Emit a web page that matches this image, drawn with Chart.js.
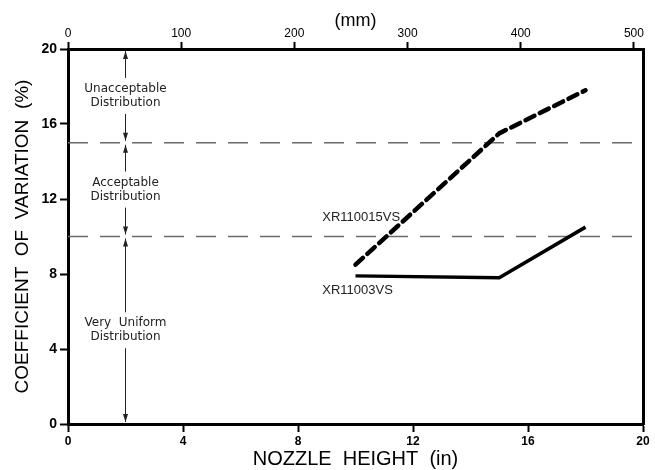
<!DOCTYPE html>
<html>
<head>
<meta charset="utf-8">
<script src="https://cdn.jsdelivr.net/npm/chart.js@4.4.1/dist/chart.umd.min.js"></script>
<style>
  html, body { margin: 0; padding: 0; background: #fff; }
  canvas { display: block; }
</style>
</head>
<body>
<canvas id="c" width="655" height="470"></canvas>
<script>
// ---- data ----
const nozzleHeightIn = [10, 15, 18];
const cvXR110015VS = [8.5, 15.5, 17.8];
const cvXR11003VS = [7.9, 7.8, 10.5];
const seriesNames = ['XR110015VS', 'XR11003VS'];
const xTicksIn = [0, 4, 8, 12, 16, 20];
const yTicks = [0, 4, 8, 12, 16, 20];
const mmTicks = [0, 100, 200, 300, 400, 500];
const zoneBounds = [0, 10, 15, 20];
const zoneLabels = [
  ['Very  Uniform', 'Distribution'],
  ['Acceptable', 'Distribution'],
  ['Unacceptable', 'Distribution']
];
const zoneArrowIn = 2;
const MM_PER_IN = 25.4;

const toXY = (xs, ys) => xs.map((x, i) => ({ x: x, y: ys[i] }));

const zonePlugin = {
  id: 'zones',
  beforeDatasetsDraw(chart) {
    const { ctx, chartArea: a, scales: { x, y } } = chart;
    ctx.save();
    // boundary dashed lines
    ctx.strokeStyle = '#6a6a6a';
    ctx.lineWidth = 1.5;
    ctx.setLineDash([20, 12]);
    zoneBounds.slice(1, -1).forEach(v => {
      const py = y.getPixelForValue(v);
      ctx.beginPath();
      ctx.moveTo(a.left, py);
      ctx.lineTo(a.right, py);
      ctx.stroke();
    });
    ctx.setLineDash([]);
    // arrows and labels
    const px = x.getPixelForValue(zoneArrowIn);
    ctx.strokeStyle = '#222';
    ctx.fillStyle = '#222';
    ctx.lineWidth = 1;
    ctx.font = '12px "DejaVu Sans", sans-serif';
    ctx.textAlign = 'center';
    ctx.textBaseline = 'middle';
    const arrow = (tipY, dir) => {
      ctx.beginPath();
      ctx.moveTo(px, tipY);
      ctx.lineTo(px - 2.5, tipY - dir * 8);
      ctx.lineTo(px + 2.5, tipY - dir * 8);
      ctx.closePath();
      ctx.fill();
    };
    for (let i = 0; i < zoneLabels.length; i++) {
      const yTop = y.getPixelForValue(zoneBounds[i + 1]) + 2;
      const yBot = y.getPixelForValue(zoneBounds[i]) - 2;
      const mid = (yTop + yBot) / 2;
      const gap = 18;
      ctx.beginPath();
      ctx.moveTo(px, yTop);
      ctx.lineTo(px, mid - gap);
      ctx.moveTo(px, mid + gap);
      ctx.lineTo(px, yBot);
      ctx.stroke();
      arrow(yTop, -1);
      arrow(yBot, 1);
      const lines = zoneLabels[i];
      lines.forEach((t, k) => {
        ctx.fillText(t, px, mid + (k - (lines.length - 1) / 2) * 14);
      });
    }
    ctx.restore();
  },
  afterDatasetsDraw(chart, args, opts) {
    const { ctx, scales: { x, y } } = chart;
    ctx.save();
    ctx.fillStyle = '#222';
    ctx.font = '13px "Liberation Sans", Arial, sans-serif';
    ctx.textAlign = 'right';
    ctx.textBaseline = 'middle';
    opts.labels.forEach(l => {
      ctx.fillText(l.text, x.getPixelForValue(l.x), y.getPixelForValue(l.y));
    });
    ctx.restore();
  }
};

const axisBase = {
  type: 'linear',
  grid: { drawOnChartArea: false, drawTicks: true, tickLength: 8, tickWidth: 2, tickColor: '#000' },
  border: { display: true, color: '#000', width: 3 }
};

new Chart(document.getElementById('c'), {
  type: 'line',
  data: {
    datasets: [
      {
        label: seriesNames[0],
        data: toXY(nozzleHeightIn, cvXR110015VS),
        borderColor: '#000',
        borderWidth: 4.5,
        borderDash: [10, 6],
        borderCapStyle: 'round',
        borderJoinStyle: 'round',
        pointRadius: 0,
        tension: 0,
        xAxisID: 'x', yAxisID: 'y'
      },
      {
        label: seriesNames[1],
        data: toXY(nozzleHeightIn, cvXR11003VS),
        borderColor: '#000',
        borderWidth: 3.5,
        pointRadius: 0,
        tension: 0,
        xAxisID: 'x', yAxisID: 'y'
      }
    ]
  },
  options: {
    responsive: false,
    animation: false,
    events: [],
    layout: { padding: 0 },
    plugins: {
      legend: { display: false },
      tooltip: { enabled: false },
      zones: {
        labels: [
          { text: seriesNames[0], x: 11.55, y: 11.0 },
          { text: seriesNames[1], x: 11.3, y: 7.15 }
        ]
      }
    },
    scales: {
      x: Object.assign({}, axisBase, {
        position: 'bottom', min: 0, max: 20,
        afterBuildTicks: s => { s.ticks = xTicksIn.map(v => ({ value: v })); },
        afterFit: s => { s.height = 46; },
        ticks: { color: '#000', padding: 2, maxRotation: 0, autoSkip: false,
                 font: { family: '"Liberation Sans", Arial, sans-serif', size: 12, weight: 'bold' } },
        title: { display: true, text: 'NOZZLE  HEIGHT  (in)', color: '#000',
                 font: { family: '"Liberation Sans", Arial, sans-serif', size: 20, lineHeight: 1 },
                 padding: { top: 0, bottom: 1 } }
      }),
      x2: Object.assign({}, axisBase, {
        position: 'top', min: 0, max: 20 * MM_PER_IN,
        grid: { drawOnChartArea: false, drawTicks: true, tickLength: 7, tickWidth: 2, tickColor: '#000' },
        afterBuildTicks: s => { s.ticks = mmTicks.map(v => ({ value: v })); },
        afterFit: s => { s.height = 49; },
        ticks: { color: '#000', padding: 1, maxRotation: 0, autoSkip: false,
                 font: { family: '"Liberation Sans", Arial, sans-serif', size: 12 } },
        title: { display: true, text: '(mm)', color: '#000',
                 font: { family: '"Liberation Sans", Arial, sans-serif', size: 18, lineHeight: 1 },
                 padding: { top: 12, bottom: 0 } }
      }),
      y: Object.assign({}, axisBase, {
        position: 'left', min: 0, max: 20,
        afterBuildTicks: s => { s.ticks = yTicks.map(v => ({ value: v })); },
        afterFit: s => { s.width = 68; },
        ticks: { color: '#000', padding: 3, autoSkip: false,
                 font: { family: '"Liberation Sans", Arial, sans-serif', size: 14, weight: 'bold' } },
        title: { display: true, text: 'COEFFICIENT  OF  VARIATION  (%)', color: '#000',
                 font: { family: '"Liberation Sans", Arial, sans-serif', size: 19, lineHeight: 1 },
                 padding: { top: 13, bottom: 0 } }
      }),
      y2: Object.assign({}, axisBase, {
        position: 'right', min: 0, max: 20,
        grid: { drawOnChartArea: false, drawTicks: false },
        ticks: { display: false },
        afterFit: s => { s.width = 12; }
      })
    }
  },
  plugins: [zonePlugin]
});
</script>
</body>
</html>
